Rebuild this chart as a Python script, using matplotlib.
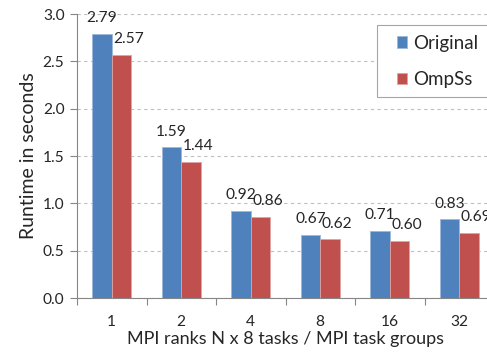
import matplotlib
matplotlib.use("Agg")
import matplotlib.pyplot as plt
from matplotlib.patches import Rectangle
import numpy as np

categories = ["1", "2", "4", "8", "16", "32"]
original = [2.79, 1.59, 0.92, 0.67, 0.71, 0.83]
ompss = [2.57, 1.44, 0.86, 0.62, 0.60, 0.69]
y_ticks = [0.0, 0.5, 1.0, 1.5, 2.0, 2.5, 3.0]

plt.rcParams["font.family"] = ["Lato", "DejaVu Sans"]
TEXT = "#262626"
BLUE = "#4F81BD"
RED = "#C0504D"
AXIS = "#868686"

fig = plt.figure(figsize=(4.87, 3.56), dpi=100)
ax = fig.add_axes([77 / 487, 1 - 298 / 356, 417 / 487, 284 / 356])

x = np.arange(len(categories))
w = 0.28
b1 = ax.bar(x - w / 2, original, w, color=BLUE, edgecolor="#9DB8DA", linewidth=0.6, label="Original", zorder=3)
b2 = ax.bar(x + w / 2, ompss, w, color=RED, edgecolor="#E0A3A1", linewidth=0.6, label="OmpSs", zorder=3)

for xi, v in zip(x - w / 2, original):
    ax.annotate(f"{v:.2f}", (xi, v), xytext=(0, 8.5), textcoords="offset points",
                ha="center", va="baseline", fontsize=11.2, color=TEXT, annotation_clip=False)
for xi, v in zip(x + w / 2, ompss):
    ax.annotate(f"{v:.2f}", (xi, v), xytext=(5, 8.5), textcoords="offset points",
                ha="center", va="baseline", fontsize=11.2, color=TEXT, annotation_clip=False)

ax.set_xlim(-0.5, len(categories) - 0.5)
ax.set_ylim(0, 3.0)
ax.set_yticks(y_ticks)
ax.set_yticklabels([f"{t:.1f}" for t in y_ticks])
ax.set_xticks(x)
ax.set_xticklabels(categories)
ax.set_xticks(np.arange(len(categories) + 1) - 0.5, minor=True)

ax.tick_params(axis="x", which="major", length=0, pad=12, labelsize=11.2, labelcolor=TEXT)
ax.tick_params(axis="x", which="minor", length=5, width=0.8, color=AXIS, direction="out")
ax.tick_params(axis="y", length=5, width=0.8, color=AXIS, pad=4, labelsize=11.2, labelcolor=TEXT)

ax.yaxis.grid(True, linestyle=(0, (3, 3)), color="#BFBFBF", linewidth=0.8, zorder=0)
ax.set_axisbelow(True)
for s in ("top", "right"):
    ax.spines[s].set_visible(False)
for s in ("left", "bottom"):
    ax.spines[s].set_color(AXIS)
    ax.spines[s].set_linewidth(0.8)

ax.set_xlabel("MPI ranks N x 8 tasks / MPI task groups", fontsize=13, color=TEXT, labelpad=2)
ax.set_ylabel("Runtime in seconds", fontsize=14, color=TEXT, labelpad=4)

# legend frame runs past the right edge of the figure
fig.patches.append(Rectangle((377 / 487, 1 - 97 / 356), 140 / 487, 72 / 356,
                             transform=fig.transFigure, facecolor="white",
                             edgecolor="#A6A6A6", linewidth=0.8, zorder=5))
leg = fig.legend(handles=[b1, b2], loc="upper left", bbox_to_anchor=(391 / 487, 1 - 29 / 356),
                 frameon=False, fontsize=13.5,
                 handlelength=0.55, handleheight=0.55, handletextpad=0.35,
                 labelspacing=1.05, borderpad=0.3, borderaxespad=0)
leg.set_zorder(6)
for t in leg.get_texts():
    t.set_color(TEXT)

fig.savefig("out.png", dpi=100)
